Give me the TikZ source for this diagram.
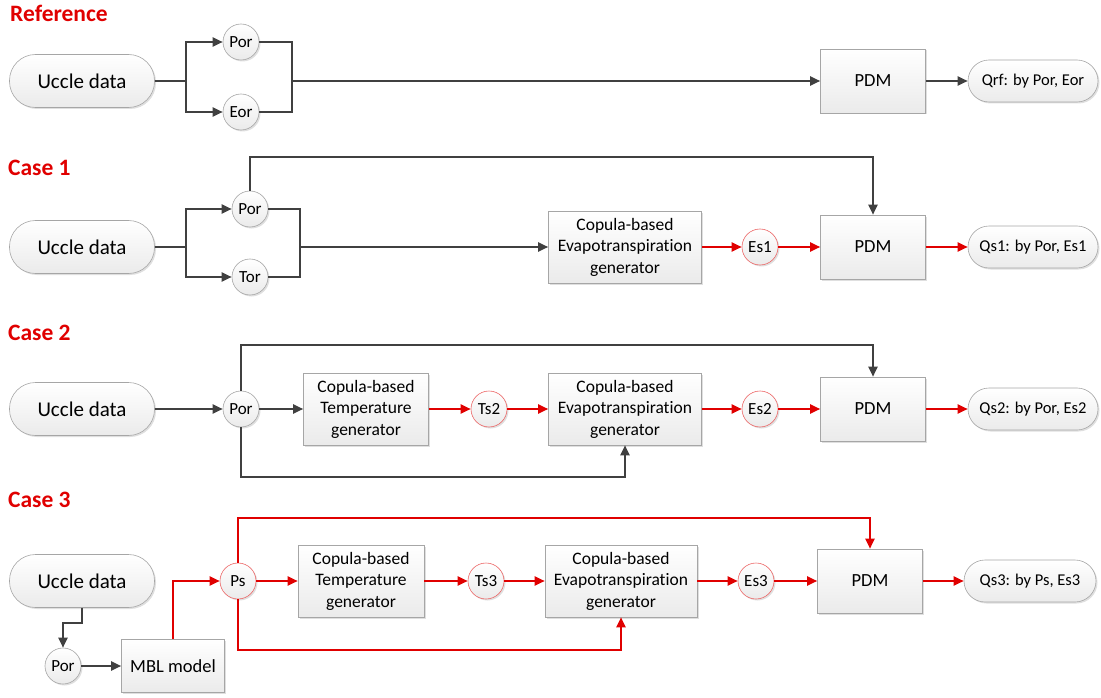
\documentclass[tikz,border=0pt]{standalone}
\usepackage{fontspec}
\setmainfont{Carlito}[Ligatures=NoCommon]
\usetikzlibrary{arrows.meta,shadows,calc}
\definecolor{ln}{HTML}{404040}
\definecolor{rd}{HTML}{E00000}
\definecolor{bd}{HTML}{A6A6A6}
\tikzset{
  base/.style={draw=bd, line width=0.6pt, top color=white, bottom color=gray!16,
     drop shadow={opacity=0.25, shadow xshift=1.5pt, shadow yshift=-1.5pt}, align=center,
     font=\fontsize{17.5}{21}\selectfont, inner sep=2pt},
  pill/.style={base, minimum width=145pt, minimum height=53pt, rounded corners=26pt, font=\fontsize{21}{24}\selectfont},
  outpill/.style={base, minimum width=130pt, minimum height=42pt, rounded corners=21pt, font=\fontsize{16.5}{19}\selectfont},
  boxn/.style={base, minimum width=105pt, minimum height=64pt, font=\fontsize{18.5}{21}\selectfont},
  genbox/.style={base, minimum height=72pt, font=\fontsize{17.5}{21.5}\selectfont},
  circ/.style={base, circle, minimum size=36pt, inner sep=0pt, font=\fontsize{17}{19}\selectfont},
  rcirc/.style={circ, draw=rd!60},
  title/.style={anchor=west, inner sep=0pt, text=rd, font=\fontsize{23.5}{26}\selectfont\bfseries},
  arr/.style={draw=ln, line width=2pt, -{Triangle[length=10pt,width=9pt]}},
  ln/.style={draw=ln, line width=2pt},
  rarr/.style={draw=rd, line width=2pt, -{Triangle[length=10pt,width=9pt]}},
}
\begin{document}
\begin{tikzpicture}[x=1pt,y=-1pt]
\useasboundingbox (0,0) rectangle (1101,698);
% ---------- Reference
\node[title] (t0) at (10,13) {Reference};
\node[pill] (u0) at (82,81) {Uccle data};
\node[circ] (por0) at (241,42) {Por};
\node[circ] (eor0) at (241,112) {Eor};
\node[boxn] (pdm0) at (873,81) {PDM};
\node[outpill] (q0) at (1033,81) {Qrf: by Por, Eor};
\coordinate (b0) at (186,81);
\coordinate (j0) at (292,81);
\draw[ln] (u0.east) -- (b0);
\draw[arr] (b0) |- (por0);
\draw[arr] (b0) |- (eor0);
\draw[ln] (por0) -| (j0);
\draw[ln] (eor0) -| (j0);
\draw[arr] (j0) -- (pdm0);
\draw[arr] (pdm0) -- (q0);
% ---------- Case 1
\node[title] (t1) at (8,168) {Case 1};
\node[pill] (u1) at (82,247) {Uccle data};
\node[circ] (por1) at (250,209) {Por};
\node[circ] (tor1) at (250,277) {Tor};
\node[genbox, minimum width=153pt] (ev1) at (625,247) {Copula-based\\Evapotranspiration\\generator};
\node[rcirc] (es1) at (760,247) {Es1};
\node[boxn] (pdm1) at (873,247) {PDM};
\node[outpill] (q1) at (1033,247) {Qs1: by Por, Es1};
\coordinate (b1) at (186,247);
\coordinate (j1) at (300,247);
\coordinate (top1) at (0,157);
\draw[ln] (u1.east) -- (b1);
\draw[arr] (b1) |- (por1);
\draw[arr] (b1) |- (tor1);
\draw[ln] (por1) -| (j1);
\draw[ln] (tor1) -| (j1);
\draw[arr] (j1) -- (j1 -| ev1.west);
\draw[arr] (por1.north) -- (por1.north |- top1) -| (pdm1.north);
\draw[rarr] (ev1) -- (es1);
\draw[rarr] (es1) -- (pdm1);
\draw[rarr] (pdm1) -- (q1);
% ---------- Case 2
\node[title] (t2) at (8,333) {Case 2};
\node[pill] (u2) at (82,409) {Uccle data};
\node[circ] (por2) at (241,409) {Por};
\node[genbox, minimum width=125pt] (tg2) at (366,409) {Copula-based\\Temperature\\generator};
\node[rcirc] (ts2) at (489,409) {Ts2};
\node[genbox, minimum width=153pt] (ev2) at (625,409) {Copula-based\\Evapotranspiration\\generator};
\node[rcirc] (es2) at (760,409) {Es2};
\node[boxn] (pdm2) at (873,409) {PDM};
\node[outpill] (q2) at (1033,409) {Qs2: by Por, Es2};
\coordinate (top2) at (0,345);
\coordinate (bot2) at (0,477);
\draw[arr] (u2) -- (por2);
\draw[arr] (por2) -- (tg2);
\draw[arr] (por2.north) -- (por2.north |- top2) -| (pdm2.north);
\draw[arr] (por2.south) -- (por2.south |- bot2) -| (ev2.south);
\draw[rarr] (tg2) -- (ts2);
\draw[rarr] (ts2) -- (ev2);
\draw[rarr] (ev2) -- (es2);
\draw[rarr] (es2) -- (pdm2);
\draw[rarr] (pdm2) -- (q2);
% ---------- Case 3
\node[title] (t3) at (8,500) {Case 3};
\node[pill] (u3) at (82,581) {Uccle data};
\node[circ] (por3) at (63,666) {Por};
\node[boxn, minimum width=103pt, minimum height=53pt] (mbl) at (173,666) {MBL model};
\node[rcirc] (ps3) at (238,581) {Ps};
\node[genbox, minimum width=126pt] (tg3) at (361,581) {Copula-based\\Temperature\\generator};
\node[rcirc] (ts3) at (486,581) {Ts3};
\node[genbox, minimum width=152pt] (ev3) at (621,581) {Copula-based\\Evapotranspiration\\generator};
\node[rcirc] (es3) at (756,581) {Es3};
\node[boxn] (pdm3) at (870,581) {PDM};
\node[outpill, minimum width=132pt] (q3) at (1030,581) {Qs3: by Ps, Es3};
\coordinate (top3) at (0,518);
\coordinate (bot3) at (0,650);
\draw[arr] (u3.south) -- ++(0,15) -| (por3.north);
\draw[arr] (por3) -- (mbl);
\draw[rarr] (mbl.north) |- (ps3);
\draw[rarr] (ps3) -- (tg3);
\draw[rarr] (ps3.north) -- (ps3.north |- top3) -| (pdm3.north);
\draw[rarr] (ps3.south) -- (ps3.south |- bot3) -| (ev3.south);
\draw[rarr] (tg3) -- (ts3);
\draw[rarr] (ts3) -- (ev3);
\draw[rarr] (ev3) -- (es3);
\draw[rarr] (es3) -- (pdm3);
\draw[rarr] (pdm3) -- (q3);
\end{tikzpicture}
\end{document}
